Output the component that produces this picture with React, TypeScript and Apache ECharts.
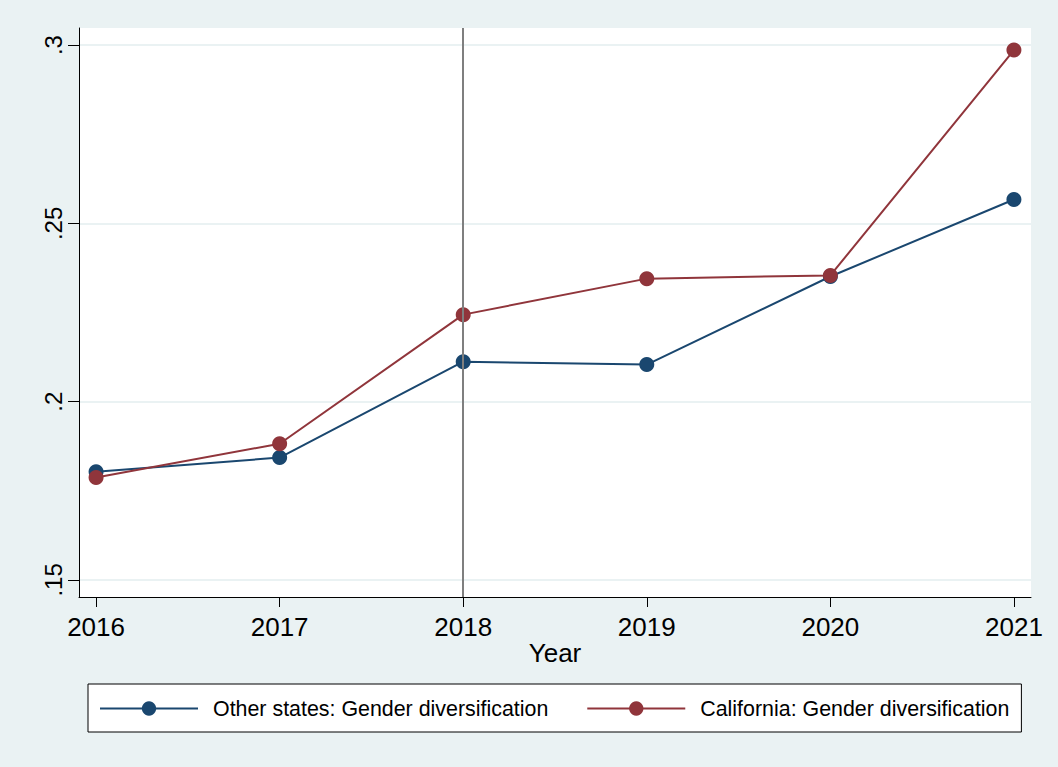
import React, { useEffect, useRef } from "react";
import * as echarts from "echarts";

const years = [2016, 2017, 2018, 2019, 2020, 2021];
const otherStates = [0.1803, 0.1843, 0.2112, 0.2104, 0.2351, 0.2567];
const california = [0.1787, 0.1882, 0.2244, 0.2345, 0.2354, 0.2986];
const yTicks = [0.15, 0.2, 0.25, 0.3];
const yTickLabels = [".15", ".2", ".25", ".3"];
const seriesNames = ["Other states: Gender diversification", "California: Gender diversification"];
const policyYear = 2018;

const FONT = "'Liberation Sans', Arial, Helvetica, sans-serif";

export default function App() {
  const ref = useRef<HTMLDivElement>(null);
  useEffect(() => {
    if (!ref.current) return;
    const chart = echarts.init(ref.current, undefined, { renderer: "svg" });
    const labelMap: Record<string, string> = {};
    yTicks.forEach((v, i) => (labelMap[String(v)] = yTickLabels[i]));
    chart.setOption({
      animation: false,
      backgroundColor: "#EAF2F3",
      textStyle: { fontFamily: FONT },
      grid: {
        left: 79,
        top: 28,
        right: 27,
        bottom: 170,
        show: true,
        backgroundColor: "#ffffff",
        borderWidth: 0,
      },
      xAxis: {
        type: "value",
        min: 2015.907,
        max: 2021.093,
        name: "Year",
        nameLocation: "middle",
        nameGap: 43,
        nameMoveOverlap: false,
        nameTextStyle: { color: "#000", fontSize: 26, fontFamily: FONT },
        axisLine: { show: true, lineStyle: { color: "#000", width: 1 } },
        axisTick: { show: true, length: 10, lineStyle: { color: "#000" }, customValues: years },
        axisLabel: {
          color: "#000",
          fontSize: 26,
          fontFamily: FONT,
          margin: 17,
          customValues: years,
          formatter: (v: number) => String(Math.round(v)),
        },
        splitLine: { show: false },
      },
      yAxis: {
        type: "value",
        min: 0.1452,
        max: 0.3048,
        axisLine: { show: true, lineStyle: { color: "#000", width: 1 } },
        axisTick: { show: true, length: 11, lineStyle: { color: "#000" }, customValues: yTicks },
        axisLabel: {
          color: "#000",
          fontSize: 24,
          fontFamily: FONT,
          rotate: 90,
          margin: 14,
          customValues: yTicks,
          formatter: (v: number) => labelMap[String(Math.round(v * 100) / 100)] ?? String(v),
        },
        splitLine: { show: true, lineStyle: { color: "#EAF2F3", width: 2 } },
      },
      legend: {
        left: 88,
        top: 684,
        orient: "horizontal",
        backgroundColor: "#ffffff",
        borderColor: "#000",
        borderWidth: 1,
        borderRadius: 0,
        padding: [14, 12, 13, 11],
        itemWidth: 98,
        itemHeight: 18,
        itemGap: 38,
        textStyle: { color: "#000", fontSize: 21.4, fontFamily: FONT, padding: [0, 0, 0, 10] },
        data: seriesNames,
      },
      series: [
        {
          name: seriesNames[0],
          type: "line",
          data: years.map((y, i) => [y, otherStates[i]]),
          symbol: "circle",
          symbolSize: 15,
          color: "#1A476F",
          lineStyle: { color: "#1A476F", width: 2 },
          itemStyle: { color: "#1A476F" },
          markLine: {
            silent: true,
            symbol: "none",
            label: { show: false },
            lineStyle: { color: "#7f7f7f", type: "solid", width: 2 },
            data: [{ xAxis: policyYear }],
          },
          z: 3,
        },
        {
          name: seriesNames[1],
          type: "line",
          data: years.map((y, i) => [y, california[i]]),
          symbol: "circle",
          symbolSize: 15,
          color: "#90353B",
          lineStyle: { color: "#90353B", width: 2 },
          itemStyle: { color: "#90353B" },
          z: 4,
        },
      ],
    });
    return () => chart.dispose();
  }, []);
  return (
    <div
      ref={ref}
      style={{ position: "fixed", left: 0, top: 0, width: 1058, height: 767 }}
    />
  );
}
